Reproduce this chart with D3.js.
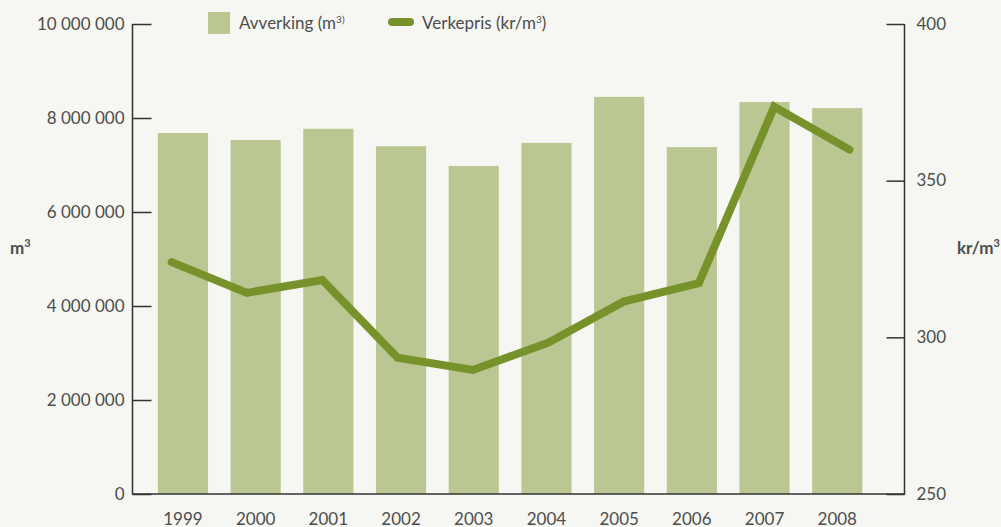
<html>
<head>
<meta charset="utf-8">
<style>
  body { margin: 0; background: #f6f7f2; }
  svg { display: block; font-family: Lato, "Noto Sans", sans-serif; }
</style>
</head>
<body>
<svg id="chart" width="1001" height="527"></svg>
<script src="https://cdn.jsdelivr.net/npm/d3@7"></script>
<script>
var years = ['1999', '2000', '2001', '2002', '2003', '2004', '2005', '2006', '2007', '2008'];
var avverking = [7680000, 7530000, 7770000, 7400000, 6980000, 7470000, 8450000, 7380000, 8340000, 8210000];
var verkepris = [324, 314.2, 318.3, 293.5, 289.6, 298.3, 311.4, 317.3, 373.6, 359.9];
var leftTicks = [0, 2000000, 4000000, 6000000, 8000000, 10000000];
var rightTicks = [250, 300, 350, 400];

var svg = d3.select('#chart');
var axisColor = '#333';
var textColor = '#4d4d4d';
var barColor = '#bac792';
var lineColor = '#78922b';

var plotLeft = 132.5, plotRight = 904.5, plotTop = 24, plotBottom = 494;

var x = d3.scaleBand().domain(years).range([146.6, 873.6])
  .paddingInner(0.31).paddingOuter(0.155);
var xLine = d3.scalePoint().domain(years).range([171.7, 849.5]);
var yLeft = d3.scaleLinear().domain([0, 10000000]).range([plotBottom, plotTop]);
var yRight = d3.scaleLinear().domain([250, 400]).range([plotBottom, plotTop]);

function fmt(d) {
  return d3.format(',')(d).replace(/,/g, ' ');
}

// bars
svg.append('g').selectAll('rect')
  .data(avverking)
  .enter().append('rect')
  .attr('x', function(d, i) { return x(years[i]); })
  .attr('y', function(d) { return yLeft(d); })
  .attr('width', x.bandwidth())
  .attr('height', function(d) { return plotBottom - yLeft(d); })
  .attr('fill', barColor);

// line
var line = d3.line()
  .x(function(d, i) { return xLine(years[i]); })
  .y(function(d) { return yRight(d); });

svg.append('path')
  .datum(verkepris)
  .attr('d', line)
  .attr('fill', 'none')
  .attr('stroke', lineColor)
  .attr('stroke-width', 8)
  .attr('stroke-linecap', 'round')
  .attr('stroke-linejoin', 'miter');

// axes
var axisLeft = d3.axisLeft(yLeft).tickValues(leftTicks).tickSize(-19).tickPadding(8).tickFormat(fmt);
var gl = svg.append('g').attr('transform', 'translate(' + plotLeft + ',0)').call(axisLeft);

var axisRight = d3.axisRight(yRight).tickValues(rightTicks).tickSize(-18).tickPadding(12);
var gr = svg.append('g').attr('transform', 'translate(' + plotRight + ',0)').call(axisRight);

[gl, gr].forEach(function(g) {
  g.select('.domain').remove();
  g.selectAll('line').attr('stroke', axisColor).attr('stroke-width', 1.5);
  g.selectAll('text').attr('fill', textColor).attr('font-size', 17)
    .attr('font-family', 'Lato, sans-serif').attr('dy', '0.3em');
});

svg.append('path')
  .attr('d', 'M' + plotLeft + ',' + plotTop + 'V' + plotBottom + 'H' + plotRight + 'V' + plotTop)
  .attr('fill', 'none')
  .attr('stroke', axisColor)
  .attr('stroke-width', 1.5);

// year labels
svg.append('g').selectAll('text')
  .data(years)
  .enter().append('text')
  .attr('x', function(d) { return x(d) + x.bandwidth() / 2; })
  .attr('y', 525)
  .attr('text-anchor', 'middle')
  .attr('fill', textColor)
  .attr('font-size', 17)
  .text(function(d) { return d; });

// axis titles
var t1 = svg.append('text').attr('x', 10).attr('y', 254)
  .attr('fill', textColor).attr('font-size', 17).attr('font-weight', 'bold').text('m');
t1.append('tspan').attr('font-size', 11).attr('dy', -7).text('3');

var t2 = svg.append('text').attr('x', 957).attr('y', 254)
  .attr('fill', textColor).attr('font-size', 17).attr('font-weight', 'bold').text('kr/m');
t2.append('tspan').attr('font-size', 11).attr('dy', -7).text('3');

// legend
svg.append('rect').attr('x', 208).attr('y', 12).attr('width', 22).attr('height', 22).attr('fill', barColor);
var l1 = svg.append('text').attr('x', 239).attr('y', 29).attr('fill', textColor).attr('font-size', 17).text('Avverking (m');
l1.append('tspan').attr('font-size', 10).attr('dy', -6).text('3)');

svg.append('line').attr('x1', 392).attr('x2', 410).attr('y1', 22).attr('y2', 22)
  .attr('stroke', lineColor).attr('stroke-width', 8).attr('stroke-linecap', 'round');
var l2 = svg.append('text').attr('x', 422).attr('y', 29).attr('fill', textColor).attr('font-size', 17).text('Verkepris (kr/m');
l2.append('tspan').attr('font-size', 10).attr('dy', -6).text('3');
l2.append('tspan').attr('dy', 6).text(')');
</script>
</body>
</html>
